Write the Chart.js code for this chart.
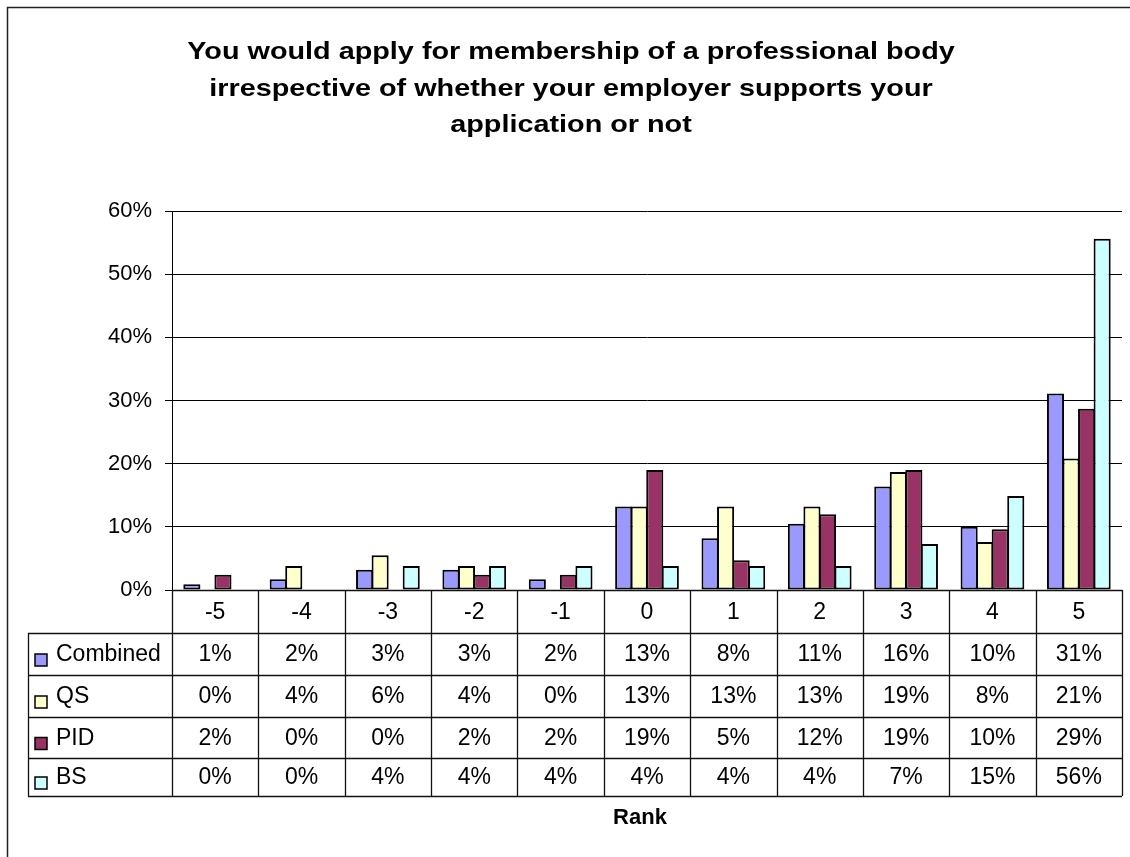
<!DOCTYPE html>
<html>
<head>
<meta charset="utf-8">
<script src="https://cdn.jsdelivr.net/npm/chart.js@4/dist/chart.umd.min.js"></script>
<style>
html,body{margin:0;padding:0;background:#fff;}
#wrap{width:1130px;height:857px;position:relative;overflow:hidden;}
canvas{display:block;}
</style>
</head>
<body>
<div id="wrap"><canvas id="c" width="1130" height="857"></canvas></div>
<script>
// ---- data ----
const categories = ['-5','-4','-3','-2','-1','0','1','2','3','4','5'];
const seriesNames = ['Combined','QS','PID','BS'];
const combined = [0.9, 1.7, 3.2, 3.2, 1.7, 13.2, 8.2, 10.5, 16.4, 10.0, 31.1];
const qs       = [0.0, 3.8, 5.5, 3.8, 0.0, 13.2, 13.2, 13.2, 18.7, 7.6, 20.8];
const pid      = [2.4, 0.0, 0.0, 2.4, 2.4, 19.0, 4.7, 12.0, 19.0, 9.6, 28.7];
const bs       = [0.0, 0.0, 3.8, 3.8, 3.8, 3.8, 3.8, 3.8, 7.3, 14.9, 55.6];
const yTicks   = [0, 10, 20, 30, 40, 50, 60];
const titleLines = [
  'You would apply for membership of a professional body',
  'irrespective of whether your employer supports your',
  'application or not'
];
const axisTitle = 'Rank';

// ---- styles ----
const colors = ['#9999FF', '#FFFFCC', '#993366', '#CCFFFF'];
const FONT = '"Liberation Sans", Arial, sans-serif';
const seriesData = [combined, qs, pid, bs];

const datasets = seriesNames.map((name, i) => ({
  label: name,
  data: seriesData[i],
  backgroundColor: colors[i],
  borderColor: '#000',
  borderWidth: 2,
  borderSkipped: false,
  barPercentage: 1.1,
  categoryPercentage: 0.72
}));

const decorPlugin = {
  id: 'decor',
  beforeDraw(chart) {
    const ctx = chart.ctx;
    ctx.save();
    ctx.fillStyle = '#fff';
    ctx.fillRect(0, 0, chart.width, chart.height);
    ctx.strokeStyle = '#222';
    ctx.lineWidth = 1.5;
    ctx.strokeRect(7.5, 7.5, 1400, 1400);
    ctx.restore();
  },
  afterDraw(chart) {
    const ctx = chart.ctx;
    const area = chart.chartArea;
    const xs = chart.scales.x;
    ctx.save();
    // title (drawn slightly widened like the original)
    ctx.fillStyle = '#000';
    ctx.font = 'bold 24px ' + FONT;
    ctx.textAlign = 'center';
    ctx.textBaseline = 'alphabetic';
    const baselines = [59, 96, 132];
    titleLines.forEach((t, i) => {
      ctx.save();
      ctx.translate(571, baselines[i]);
      ctx.scale(1.2, 1);
      ctx.fillText(t, 0, 0);
      ctx.restore();
    });

    // data table
    const n = categories.length;
    const cw = (area.right - area.left) / n;
    const top = area.bottom;
    const rowEdges = [top, 633, 675, 717, 758, 796];
    const legLeft = 28;
    ctx.strokeStyle = '#111';
    ctx.lineWidth = 1.3;
    const hl = (x1, x2, y) => { ctx.beginPath(); ctx.moveTo(x1, Math.round(y) + 0.5); ctx.lineTo(x2, Math.round(y) + 0.5); ctx.stroke(); };
    const vl = (x, y1, y2) => { ctx.beginPath(); ctx.moveTo(Math.round(x) + 0.5, y1); ctx.lineTo(Math.round(x) + 0.5, y2); ctx.stroke(); };
    hl(area.left, area.right, rowEdges[0]);
    for (let r = 1; r < rowEdges.length; r++) hl(legLeft, area.right, rowEdges[r]);
    for (let i = 0; i <= n; i++) {
      const x = i < n ? xs.getPixelForValue(i) - cw / 2 : xs.getPixelForValue(n - 1) + cw / 2;
      vl(x, rowEdges[0], rowEdges[rowEdges.length - 1]);
    }
    vl(legLeft, rowEdges[1], rowEdges[rowEdges.length - 1]);

    ctx.font = '23px ' + FONT;
    ctx.textAlign = 'center';
    ctx.textBaseline = 'middle';
    ctx.fillStyle = '#000';
    categories.forEach((c, i) => {
      ctx.fillText(c, xs.getPixelForValue(i), (rowEdges[0] + rowEdges[1]) / 2 + 1);
    });
    seriesData.forEach((arr, s) => {
      const cy = (rowEdges[s + 1] + rowEdges[s + 2]) / 2 + 1;
      arr.forEach((v, i) => {
        ctx.fillText(Math.round(v) + '%', xs.getPixelForValue(i), cy);
      });
      // legend key
      ctx.fillStyle = colors[s];
      ctx.fillRect(35, cy - 1, 12, 12);
      ctx.strokeStyle = '#000';
      ctx.lineWidth = 1.5;
      ctx.strokeRect(35, cy - 1, 12, 12);
      ctx.fillStyle = '#000';
      ctx.textAlign = 'left';
      ctx.fillText(seriesNames[s], 56, cy);
      ctx.textAlign = 'center';
    });

    // axis title
    ctx.font = 'bold 22px ' + FONT;
    ctx.fillText(axisTitle, 640, 818);
    ctx.restore();
  }
};

new Chart(document.getElementById('c'), {
  type: 'bar',
  data: { labels: categories, datasets },
  options: {
    responsive: false,
    animation: false,
    layout: { padding: { left: 0, right: 8, top: 211, bottom: 267 } },
    plugins: { legend: { display: false }, title: { display: false }, tooltip: { enabled: false } },
    scales: {
      x: { display: false, offset: true },
      y: {
        min: 0, max: 60,
        afterBuildTicks: (s) => { s.ticks = yTicks.map(v => ({ value: v })); },
        afterFit: (s) => { s.width = 172; },
        ticks: {
          callback: (v) => v + '%',
          font: { family: FONT, size: 22 },
          color: '#000',
          padding: 13
        },
        grid: { color: '#000', lineWidth: 1, tickLength: 7, drawTicks: true },
        border: { display: true, color: '#000', width: 1 }
      }
    }
  },
  plugins: [decorPlugin]
});
</script>
</body>
</html>
